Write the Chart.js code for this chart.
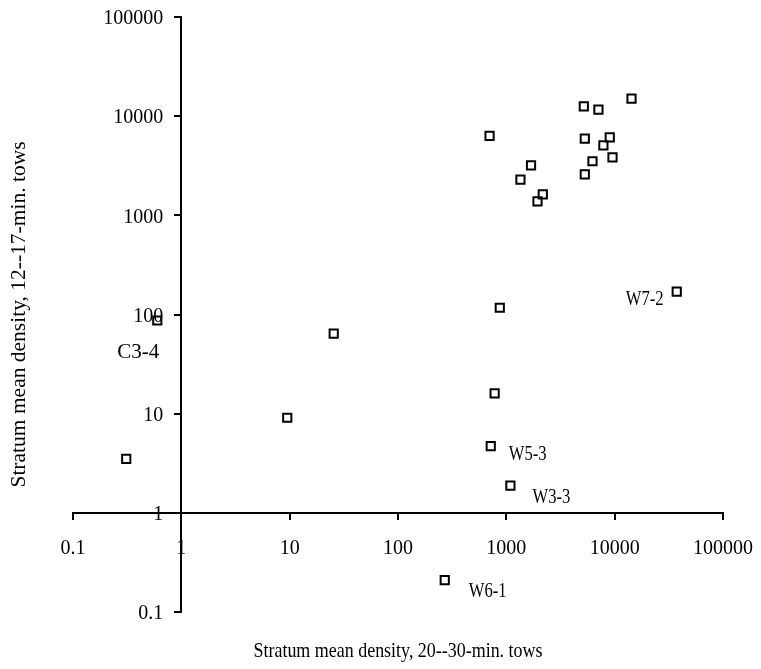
<!DOCTYPE html>
<html>
<head>
<meta charset="utf-8">
<title>Stratum mean density</title>
<script src="https://cdn.jsdelivr.net/npm/chart.js@4.4.1/dist/chart.umd.min.js"></script>
<style>
  html, body { margin:0; padding:0; background:#fff; }
</style>
</head>
<body>
<canvas id="chart" width="761" height="669"></canvas>
<script>
// density from 20--30-min. tows (x) vs 12--17-min. tows (y)
const longTowDensity  = [0.31, 0.60, 9.5, 25.5, 700, 1690, 1350, 2170, 1940, 5190, 7080, 14300, 5300, 9010, 7870, 9550, 6240, 5300, 870, 780, 718, 1090, 270, 37400];
const shortTowDensity = [3.5, 87, 9.1, 64, 6330, 3190, 2290, 1630, 1380, 12560, 11640, 15000, 5930, 6110, 5080, 3850, 3510, 2590, 117, 16, 4.7, 1.88, 0.21, 170];
const stationNames    = ["", "C3-4", "", "", "", "", "", "", "", "", "", "", "", "", "", "", "", "", "", "", "W5-3", "W3-3", "W6-1", "W7-2"];

const xTickValues = [0.1, 1, 10, 100, 1000, 10000, 100000];
const xTickLabels = ["0.1", "1", "10", "100", "1000", "10000", "100000"];
const yTickValues = [0.1, 1, 10, 100, 1000, 10000, 100000];
const yTickLabels = ["0.1", "1", "10", "100", "1000", "10000", "100000"];

const xTitle = "Stratum mean density, 20--30-min. tows";
const yTitle = "Stratum mean density, 12--17-min. tows";

const FONT = "Liberation Serif";

// where each station name sits relative to its square: dx, dy, font size, width scale
const nameOffsets = {
  "C3-4": [-19, 32, 21, 1],
  "W5-3": [37, 9, 20, 0.83],
  "W3-3": [41, 12, 20, 0.83],
  "W6-1": [43, 12, 20, 0.83],
  "W7-2": [-32, 8, 20, 0.83]
};

function squashText(ctx, text, x, y, hscale) {
  ctx.save();
  ctx.translate(x, y);
  ctx.scale(hscale, 1);
  ctx.fillText(text, 0, 0);
  ctx.restore();
}

const textPlugin = {
  id: "textPlugin",
  afterDraw(chart) {
    const ctx = chart.ctx;
    const xs = chart.scales.x, ys = chart.scales.y;
    const area = chart.chartArea;
    ctx.save();
    ctx.fillStyle = "#000";

    // y tick labels, right aligned left of the axis line
    ctx.font = `20px "${FONT}"`;
    ctx.textAlign = "right";
    ctx.textBaseline = "middle";
    const axisX = xs.getPixelForValue(1);
    ys.ticks.forEach((t, i) => {
      ctx.fillText(yTickLabels[i], axisX - 18, ys.getPixelForValue(t.value) + 2);
    });

    // station names
    ctx.textAlign = "center";
    const meta = chart.getDatasetMeta(0);
    stationNames.forEach((name, i) => {
      if (!name) return;
      const pt = meta.data[i];
      const [dx, dy, size, sx] = nameOffsets[name];
      ctx.font = `${size}px "${FONT}"`;
      squashText(ctx, name, pt.x + dx, pt.y + dy, sx);
    });

    // axis titles
    ctx.font = `21.5px "${FONT}"`;
    squashText(ctx, xTitle, (area.left + area.right) / 2, 651, 0.835);

    ctx.save();
    ctx.translate(19.5, (area.top + area.bottom) / 2);
    ctx.rotate(-Math.PI / 2);
    ctx.fillText(yTitle, 0, 0);
    ctx.restore();

    ctx.restore();
  }
};

const axisGrid = { drawOnChartArea:false, drawTicks:true, tickLength:6, color:"#000", lineWidth:2 };
const axisBorder = { display:true, color:"#000", width:2 };

new Chart(document.getElementById("chart"), {
  type: "scatter",
  data: {
    datasets: [{
      data: longTowDensity.map((x, i) => ({ x, y: shortTowDensity[i] })),
      pointStyle: "rect",
      pointRadius: 5.8,
      pointHoverRadius: 5.8,
      borderColor: "#000",
      backgroundColor: "rgba(0,0,0,0)",
      borderWidth: 2
    }]
  },
  options: {
    responsive: false,
    animation: false,
    devicePixelRatio: 1,
    layout: { padding: { left:73, right:38, top:17, bottom:57 } },
    plugins: { legend:{ display:false }, tooltip:{ enabled:false } },
    scales: {
      x: {
        type: "logarithmic",
        position: { y: 1 },
        min: 0.1, max: 100000,
        afterBuildTicks: s => { s.ticks = xTickValues.map(v => ({ value:v })); },
        // labels may overhang the plot edges, like the original
        afterFit: s => { s.paddingLeft = 0; s.paddingRight = 0; },
        ticks: {
          callback: (v, i) => xTickLabels[i],
          autoSkip: false, maxRotation: 0,
          padding: 18,
          color: "#000",
          font: { family: FONT, size: 20 }
        },
        grid: axisGrid,
        border: axisBorder
      },
      y: {
        type: "logarithmic",
        position: { x: 1 },
        min: 0.1, max: 100000,
        afterBuildTicks: s => { s.ticks = yTickValues.map(v => ({ value:v })); },
        afterFit: s => { s.paddingTop = 0; s.paddingBottom = 0; },
        ticks: { display: false },
        grid: axisGrid,
        border: axisBorder
      }
    }
  },
  plugins: [textPlugin]
});
</script>
</body>
</html>
